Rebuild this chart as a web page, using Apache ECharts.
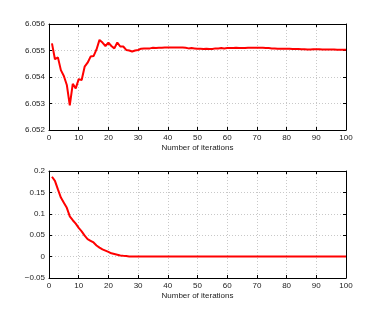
<!DOCTYPE html>
<html><head><meta charset="utf-8">
<script src="https://cdn.jsdelivr.net/npm/echarts@6/dist/echarts.min.js"></script>
<style>html,body{margin:0;padding:0;background:#fff}#c{width:383px;height:313px}</style>
</head><body><div id="c"></div>
<script>
const topX = Array.from({length:100},(_,i)=>i+1);
const topY = [6.05527,6.05467,6.05474,6.05426,6.05404,6.0537,6.05293,6.05374,6.05357,6.05392,
6.05389,6.05439,6.05454,6.05477,6.05479,6.05504,6.0554,6.0553,6.05517,6.0553,
6.05517,6.05508,6.0553,6.05515,6.05515,6.05502,6.055,6.05496,6.055,6.05502,
6.05507,6.05508,6.05508,6.05508,6.0551,6.05509,6.0551,6.0551,6.05511,6.05511,
6.05511,6.05511,6.05511,6.05511,6.05511,6.0551,6.05508,6.05509,6.05508,6.05507,
6.05507,6.05506,6.05507,6.05506,6.05506,6.05508,6.05508,6.05509,6.05508,6.05509,
6.05509,6.05509,6.0551,6.05509,6.05509,6.05509,6.0551,6.0551,6.0551,6.0551,
6.0551,6.0551,6.05509,6.05509,6.05508,6.05508,6.05507,6.05507,6.05507,6.05507,
6.05507,6.05506,6.05506,6.05506,6.05505,6.05505,6.05504,6.05504,6.05505,6.05505,
6.05505,6.05504,6.05504,6.05504,6.05504,6.05504,6.05503,6.05503,6.05503,6.05503];
const botY = [0.1866,0.177,0.157,0.138,0.126,0.114,0.094,0.085,0.077,0.067,
0.059,0.049,0.041,0.037,0.033,0.026,0.021,0.017,0.014,0.011,
0.0076,0.006,0.0044,0.0028,0.002,0.0013,0.0005,0.0001,0,0];
while (botY.length < 100) botY.push(0);
const xName = 'Number of iterations';

const chart = echarts.init(document.getElementById('c'), null, {renderer:'canvas'});
const font = 'Liberation Sans';
const lab = {color:'#222', fontSize:8, fontFamily:font};
const split = {show:true, lineStyle:{color:'#c8c8c8', type:[1,2], width:1}};
function xA(gi){
  return [{type:'value', gridIndex:gi, min:0, max:100, interval:10,
    axisLine:{onZero:false,lineStyle:{color:'#000',width:1}}, axisTick:{inside:true,length:3,lineStyle:{color:'#000'}},
    axisLabel:Object.assign({margin:4},lab), splitLine:split,
    name:xName, nameLocation:'middle', nameGap:14, nameTextStyle:lab},
   {type:'value', gridIndex:gi, position:'top', min:0, max:100, interval:10,
    axisLine:{show:true,onZero:false,lineStyle:{color:'#000',width:1}}, axisTick:{inside:true,length:3,lineStyle:{color:'#000'}},
    axisLabel:{show:false}, splitLine:{show:false}}];
}
function yA(gi,min,max,interval,fmt){
  return [{type:'value', gridIndex:gi, min:min, max:max, interval:interval,
    axisLine:{show:true,onZero:false,lineStyle:{color:'#000',width:1}}, axisTick:{show:true,inside:true,length:3,lineStyle:{color:'#000'}},
    axisLabel:Object.assign({margin:4, formatter:fmt},lab), splitLine:split},
   {type:'value', gridIndex:gi, position:'right', min:min, max:max, interval:interval,
    axisLine:{show:true,onZero:false,lineStyle:{color:'#000',width:1}}, axisTick:{show:true,inside:true,length:3,lineStyle:{color:'#000'}},
    axisLabel:{show:false}, splitLine:{show:false}}];
}
chart.setOption({
  animation:false,
  grid:[{left:49,right:37,top:24,height:106},{left:49,right:37,top:171,height:107}],
  xAxis:[...xA(0),...xA(1)],
  yAxis:[...yA(0,6.052,6.056,0.001,v=>v.toFixed(3)),
         ...yA(1,-0.05,0.2,0.05,v=>{let s=(Math.round(v*100)/100).toString(); return s.replace('-','\u2212');})],
  series:[
    {type:'line', xAxisIndex:0, yAxisIndex:0, data:topX.map((x,i)=>[x,topY[i]]), showSymbol:false, lineStyle:{color:'#ff0000',width:2}},
    {type:'line', xAxisIndex:2, yAxisIndex:2, data:topX.map((x,i)=>[x,botY[i]]), showSymbol:false, lineStyle:{color:'#ff0000',width:2}}
  ]
});
</script></body></html>
